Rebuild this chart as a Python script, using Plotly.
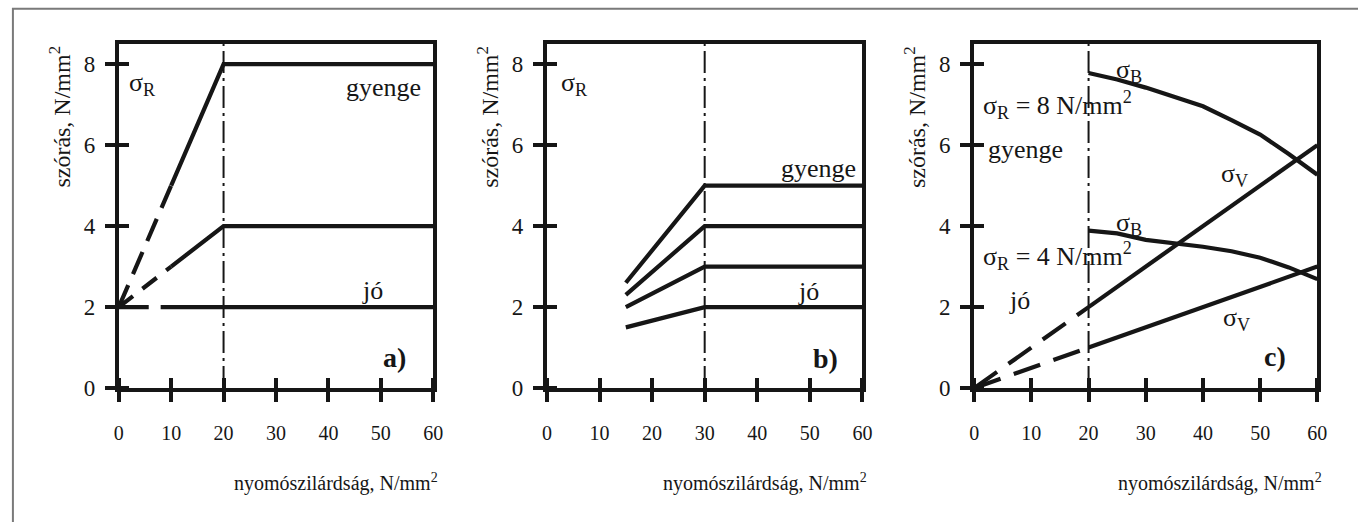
import plotly.graph_objects as go

FONT = "'Liberation Serif', 'Times New Roman', Times, serif"
INK = "#161616"
W, H = 1358, 522

# ---------------- data ----------------
x_ticks = [0, 10, 20, 30, 40, 50, 60]
y_ticks = [0, 2, 4, 6, 8]
x_max = 60
y_max = 8.5

# a) standard deviation of the strength, three quality levels
a_limit = 20
a_gyenge_x_ext, a_gyenge_y_ext = [0, 10], [2, 5]
a_gyenge_x, a_gyenge_y = [10, 20, 60], [5, 8, 8]
a_mid_x_ext, a_mid_y_ext = [0, 10], [2, 3]
a_mid_x, a_mid_y = [10, 20, 60], [3, 4, 4]
a_jo_x_ext, a_jo_y_ext = [0, 8], [2, 2]
a_jo_x, a_jo_y = [8, 60], [2, 2]

# b) four quality levels
b_limit = 30
b_x = [15, 30, 60]
b_gyenge = [2.6, 5, 5]
b_level4 = [2.3, 4, 4]
b_level3 = [2.0, 3, 3]
b_jo = [1.5, 2, 2]

# c) within-batch (sigma_B) and between-batch (sigma_V) deviation
c_limit = 20
c_v_x_ext = [0, 20]
c_v8_ext = [0, 2]
c_v4_ext = [0, 1]
c_v_x = [20, 60]
c_v8 = [2, 6]
c_v4 = [1, 3]
c_b_x = [20, 25, 30, 35, 40, 45, 50, 55, 60]
c_b8 = [7.78, 7.62, 7.42, 7.18, 6.96, 6.62, 6.26, 5.78, 5.27]
c_b4 = [3.89, 3.82, 3.66, 3.58, 3.49, 3.38, 3.22, 2.98, 2.69]

# ---------------- figure ----------------
fig = go.Figure()

SOLID_W = 4.2


def line(xs, ys, ax, dash="solid", width=SOLID_W):
    fig.add_trace(go.Scatter(
        x=xs, y=ys, mode="lines", xaxis="x" + ax, yaxis="y" + ax,
        line=dict(color=INK, width=width, dash=dash),
        hoverinfo="skip", showlegend=False,
    ))


def limit_line(xv, ax):
    line([xv, xv], [0, y_max], ax, dash="22px,5px,3px,5px", width=2)


# panel a)
limit_line(a_limit, "")
line(a_gyenge_x_ext, a_gyenge_y_ext, "", dash="24px,12px")
line(a_gyenge_x, a_gyenge_y, "")
line(a_mid_x_ext, a_mid_y_ext, "", dash="18px,12px")
line(a_mid_x, a_mid_y, "")
line(a_jo_x_ext, a_jo_y_ext, "", dash="30px,13px")
line(a_jo_x, a_jo_y, "")

# panel b)
limit_line(b_limit, "2")
for ys in (b_gyenge, b_level4, b_level3, b_jo):
    line(b_x, ys, "2")

# panel c)
limit_line(c_limit, "3")
line(c_v_x_ext, c_v8_ext, "3", dash="28px,14px")
line(c_v_x_ext, c_v4_ext, "3", dash="28px,14px")
line(c_v_x, c_v8, "3")
line(c_v_x, c_v4, "3")
line(c_b_x, c_b8, "3")
line(c_b_x, c_b4, "3")

# ---------------- axes ----------------
y_dom = [(H - 398) / H, (H - 45) / H]
x_doms = [[115 / W, 433 / W], [548 / W, 867 / W], [980 / W, 1327 / W]]

tick_common = dict(ticklen=10, tickwidth=4, tickcolor=INK)


def xaxis(dom, anchor):
    return dict(
        domain=dom, anchor=anchor, range=[0, x_max],
        tickmode="array", tickvals=x_ticks, ticks="outside", **tick_common,
        minor=dict(tickmode="array", tickvals=x_ticks, ticks="inside", **tick_common),
        showline=True, linewidth=4, linecolor=INK, mirror=True,
        showgrid=False, zeroline=False,
        tickfont=dict(family=FONT, size=20, color=INK), ticklabelstandoff=14,
        fixedrange=True,
    )


def yaxis(anchor):
    return dict(
        domain=y_dom, anchor=anchor, range=[0, y_max],
        tickmode="array", tickvals=y_ticks, ticks="outside", **tick_common,
        minor=dict(tickmode="array", tickvals=y_ticks, ticks="inside", **tick_common),
        showline=True, linewidth=4, linecolor=INK, mirror=True,
        showgrid=False, zeroline=False,
        tickfont=dict(family=FONT, size=23, color=INK), ticklabelstandoff=5,
        fixedrange=True,
    )


fig.update_layout(
    width=W, height=H, autosize=False,
    margin=dict(l=0, r=0, t=0, b=0),
    paper_bgcolor="white", plot_bgcolor="white",
    showlegend=False,
    font=dict(family=FONT, color=INK),
    xaxis=xaxis(x_doms[0], "y"), yaxis=yaxis("x"),
    xaxis2=xaxis(x_doms[1], "y2"), yaxis2=yaxis("x2"),
    xaxis3=xaxis(x_doms[2], "y3"), yaxis3=yaxis("x3"),
)

# outer frame of the figure
fig.add_shape(type="rect", xref="paper", yref="paper",
              x0=8 / W, x1=1.05, y0=-0.05, y1=1 - 9 / H,
              line=dict(color="#7a7a7a", width=2), layer="below")

# ---------------- text ----------------
ann = []
LBL = 26


def txt(text, x, y, ax, xanchor="left", size=LBL, bold=False):
    if bold:
        text = "<b>" + text + "</b>"
    ann.append(dict(text=text, x=x, y=y, xref="x" + ax, yref="y" + ax,
                    xanchor=xanchor, yanchor="middle", showarrow=False,
                    font=dict(family=FONT, size=size, color=INK)))


for ax in ("", "2", "3"):
    ann.append(dict(text="szórás, N/mm<sup>2</sup>", textangle=-90,
                    xref="x" + ax + " domain", yref="y" + ax + " domain",
                    x=0, y=1, xanchor="center", yanchor="top", xshift=-59,
                    showarrow=False, font=dict(family=FONT, size=24, color=INK)))
    ann.append(dict(text="nyomószilárdság, N/mm<sup>2</sup>",
                    xref="x" + ax + " domain", yref="paper",
                    x=1, y=1 - 481 / H, xanchor="right", yanchor="middle",
                    xshift=7, yshift=-13,
                    showarrow=False, font=dict(family=FONT, size=20, color=INK)))

# a)
txt("σ<sub>R</sub>", 1.5, 7.5, "")
txt("gyenge", 58, 7.42, "", xanchor="right")
txt("jó", 48.5, 2.42, "", xanchor="center")
txt("a)", 52.7, 0.75, "", xanchor="center", size=28, bold=True)

# b)
txt("σ<sub>R</sub>", 2.3, 7.5, "2")
txt("gyenge", 59.2, 5.42, "2", xanchor="right")
txt("jó", 49.7, 2.38, "2", xanchor="center")
txt("b)", 53.0, 0.73, "2", xanchor="center", size=28, bold=True)

# c)
txt("σ<sub>B</sub>", 24.5, 7.83, "3")
txt("σ<sub>R</sub> = 8 N/mm<sup>2</sup>", 1.2, 7.0, "3")
txt("gyenge", 2.1, 5.88, "3")
txt("σ<sub>V</sub>", 42.8, 5.26, "3")
txt("σ<sub>B</sub>", 24.5, 4.06, "3")
txt("σ<sub>R</sub> = 4 N/mm<sup>2</sup>", 1.2, 3.27, "3")
txt("jó", 5.7, 2.16, "3")
txt("σ<sub>V</sub>", 43.2, 1.71, "3")
txt("c)", 50.4, 0.78, "3", size=28, bold=True)

fig.update_layout(annotations=ann)

fig.write_html("out.html")
